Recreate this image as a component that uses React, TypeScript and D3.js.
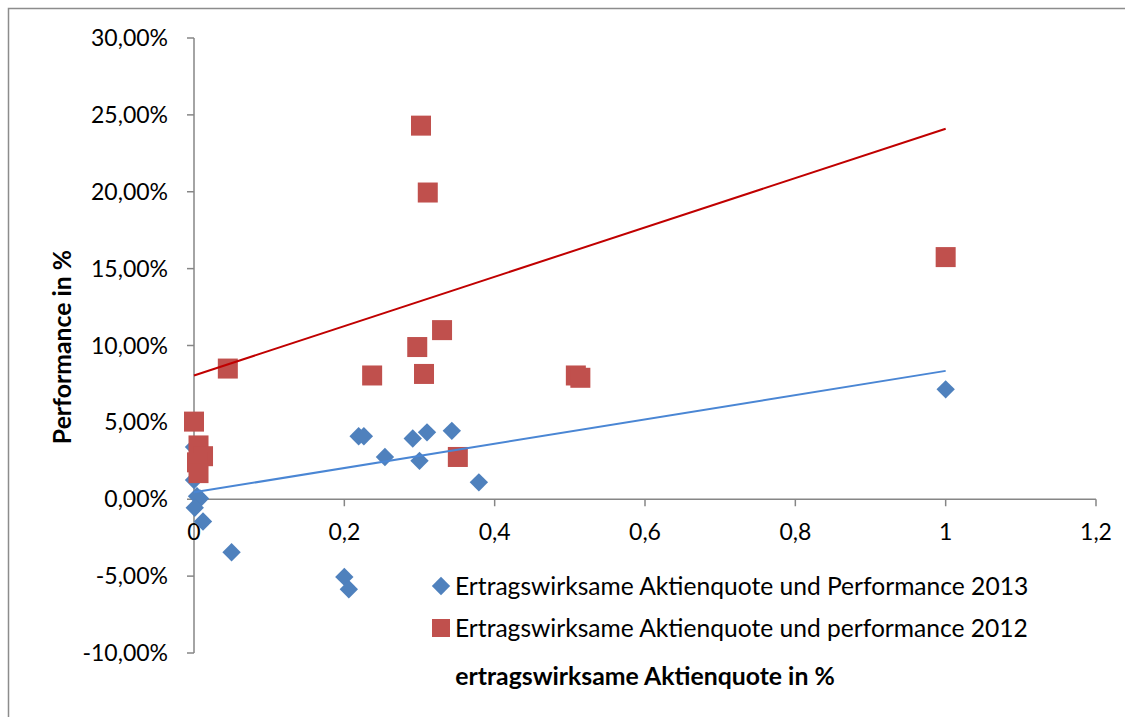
import React from 'react';
import * as d3 from 'd3';

// Ertragswirksame Aktienquote (x) und Performance (y), 2013
const quote2013 = [1.0, 0.379, 0.343, 0.31, 0.291, 0.3, 0.254, 0.219, 0.226, 0.2, 0.206, 0.05, 0.012, 0.008, 0.004, 0.001, 0.0, 0.0];
const perf2013 = [0.0715, 0.011, 0.0445, 0.0435, 0.0395, 0.025, 0.0275, 0.041, 0.041, -0.0505, -0.0585, -0.0345, -0.0145, 0.0005, 0.002, -0.0055, 0.0125, 0.034];

// 2012
const quote2012 = [1.0, 0.302, 0.311, 0.33, 0.297, 0.306, 0.237, 0.508, 0.514, 0.351, 0.045, 0.0, 0.006, 0.012, 0.004, 0.006];
const perf2012 = [0.1575, 0.243, 0.1995, 0.11, 0.099, 0.0815, 0.0805, 0.0805, 0.079, 0.0275, 0.085, 0.0505, 0.035, 0.028, 0.024, 0.017];

// linear trend lines: [intercept, slope]
const trend2013 = [0.0045, 0.079];
const trend2012 = [0.0805, 0.1605];

const xTicks = [0, 0.2, 0.4, 0.6, 0.8, 1.0, 1.2];
const yTicks = [-0.1, -0.05, 0, 0.05, 0.1, 0.15, 0.2, 0.25, 0.3];

const seriesNames = [
  'Ertragswirksame Aktienquote und Performance 2013',
  'Ertragswirksame Aktienquote und performance 2012',
];

const BLUE = '#4F81BD';
const RED = '#C0504D';
const FONT = 'Lato, "Open Sans", sans-serif';

export default function App() {
  const width = 1125;
  const height = 717;

  const x = d3.scaleLinear().domain([0, 1.2]).range([194, 1096]);
  const y = d3.scaleLinear().domain([-0.1, 0.3]).range([653, 38]);

  const fmtY = (d: number) => `${(d * 100).toFixed(2).replace('.', ',')}%`;
  const fmtX = (d: number) => String(+d.toFixed(1)).replace('.', ',');

  const trendLine = (t: number[], xs: number[]) => {
    const [lo, hi] = d3.extent(xs) as [number, number];
    return d3.line<number>()
      .x(d => x(d))
      .y(d => y(t[0] + t[1] * d))([lo, hi]) as string;
  };

  const diamond = d3.symbol().type(d3.symbolDiamond2).size(215)() as string;

  return (
    <svg
      width={width}
      height={height}
      style={{ position: 'absolute', left: 0, top: 0, background: '#fff' }}
      fontFamily={FONT}
    >
      {/* chart frame */}
      <rect x={8.5} y={8.5} width={1200} height={800} fill="#fff" stroke="#8c8c8c" strokeWidth={1.5} />

      {/* y axis */}
      <line x1={x(0)} x2={x(0)} y1={y(0.3)} y2={y(-0.1)} stroke="#868686" strokeWidth={1.5} />
      {yTicks.map(t => (
        <g key={t}>
          <line x1={x(0) - 7} x2={x(0)} y1={y(t)} y2={y(t)} stroke="#868686" strokeWidth={1.5} />
          <text x={168} y={y(t)} dy="0.35em" textAnchor="end" fontSize={23} fill="#000">
            {fmtY(t)}
          </text>
        </g>
      ))}

      {/* x axis */}
      <line x1={x(0)} x2={x(1.2)} y1={y(0)} y2={y(0)} stroke="#868686" strokeWidth={1.5} />
      {xTicks.map(t => (
        <g key={t}>
          <line x1={x(t)} x2={x(t)} y1={y(0)} y2={y(0) + 7} stroke="#868686" strokeWidth={1.5} />
          <text x={x(t)} y={y(0) + 33} dy="0.35em" textAnchor="middle" fontSize={23} fill="#000">
            {fmtX(t)}
          </text>
        </g>
      ))}

      {/* 2013 markers */}
      {quote2013.map((q, i) => (
        <path key={`b${i}`} d={diamond} transform={`translate(${x(q)},${y(perf2013[i])})`} fill={BLUE} />
      ))}

      {/* 2012 markers */}
      {quote2012.map((q, i) => (
        <rect key={`r${i}`} x={x(q) - 10} y={y(perf2012[i]) - 10} width={20} height={20} fill={RED} />
      ))}

      {/* trend lines */}
      <path d={trendLine(trend2013, quote2013)} fill="none" stroke="#4A86D4" strokeWidth={2} />
      <path d={trendLine(trend2012, quote2012)} fill="none" stroke="#C00000" strokeWidth={2} />

      {/* legend */}
      <path d={diamond} transform="translate(441,586)" fill={BLUE} />
      <text x={455} y={586} dy="0.35em" fontSize={24.6} fill="#000">{seriesNames[0]}</text>
      <rect x={432} y={619} width={18} height={18} fill={RED} />
      <text x={455} y={628} dy="0.35em" fontSize={24.6} fill="#000">{seriesNames[1]}</text>

      {/* axis titles */}
      <text x={645} y={676} dy="0.35em" textAnchor="middle" fontSize={24.8} fontWeight="bold" fill="#000">
        ertragswirksame Aktienquote in %
      </text>
      <text
        transform="translate(62,347) rotate(-90)"
        dy="0.35em"
        textAnchor="middle"
        fontSize={24.8}
        fontWeight="bold"
        fill="#000"
      >
        Performance in %
      </text>
    </svg>
  );
}
